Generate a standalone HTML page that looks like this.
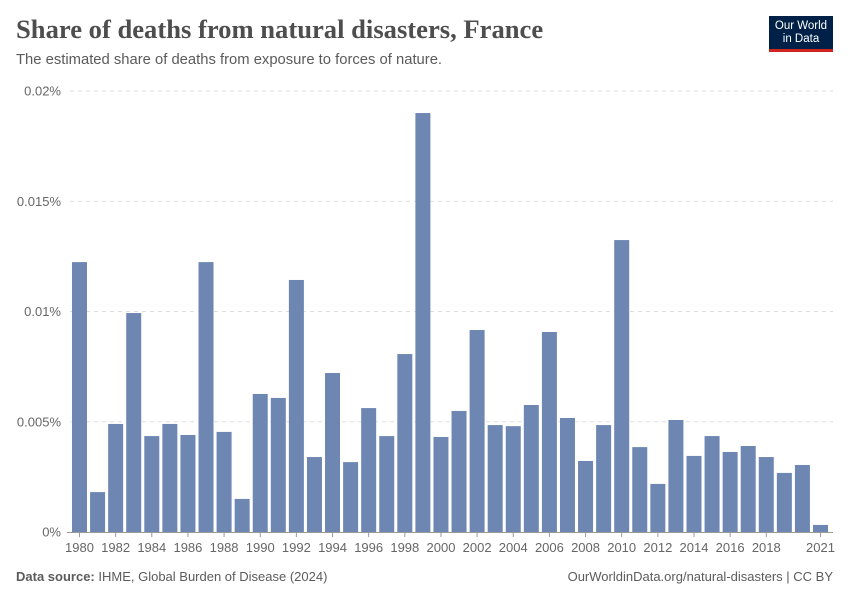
<!DOCTYPE html>
<html><head><meta charset="utf-8"><style>
body{margin:0;background:#fff;font-family:"Liberation Sans",sans-serif;}
#wrap{position:relative;width:850px;height:600px;overflow:hidden;}
.t{position:absolute;white-space:nowrap;}
</style></head><body>
<div id="wrap">
<div class="t" style="left:16px;top:14px;font-family:'Liberation Serif',serif;font-size:26.6px;font-weight:bold;color:#4e4e4e;">Share of deaths from natural disasters, France</div>
<div class="t" style="left:16px;top:52px;font-size:14.8px;color:#5b5b5b;">The estimated share of deaths from exposure to forces of nature.</div>
<div style="position:absolute;left:769px;top:16px;width:64px;height:36px;background:#002147;border-bottom:3px solid #ce261e;box-sizing:border-box;color:#fff;font-size:11.5px;line-height:13px;text-align:center;padding-top:4px;">Our World<br>in Data</div>
<svg id="chart" width="850" height="600" style="position:absolute;left:0;top:0"></svg>
<div class="t" style="left:16px;top:569px;font-size:13px;color:#5b5b5b;"><b style="font-weight:bold;color:#5b5b5b">Data source:</b> IHME, Global Burden of Disease (2024)</div>
<div class="t" style="right:17px;top:569px;font-size:13px;color:#5b5b5b;">OurWorldinData.org/natural-disasters | CC BY</div>
</div>
<script>
const years=[1980,1981,1982,1983,1984,1985,1986,1987,1988,1989,1990,1991,1992,1993,1994,1995,1996,1997,1998,1999,2000,2001,2002,2003,2004,2005,2006,2007,2008,2009,2010,2011,2012,2013,2014,2015,2016,2017,2018,2019,2020,2021];
const values=[0.01224,0.00181,0.0049,0.00993,0.00435,0.0049,0.0044,0.01224,0.00454,0.0015,0.00626,0.00608,0.01143,0.0034,0.00721,0.00317,0.00562,0.00435,0.00807,0.019,0.00431,0.00549,0.00916,0.00485,0.0048,0.00576,0.00907,0.00517,0.00322,0.00485,0.01324,0.00385,0.00218,0.00508,0.00345,0.00435,0.00363,0.0039,0.0034,0.00268,0.00304,0.00032];
const yTicks=[0,0.005,0.01,0.015,0.02];
const yTickLabels=["0%","0.005%","0.01%","0.015%","0.02%"];
const xTickYears=[1980,1982,1984,1986,1988,1990,1992,1994,1996,1998,2000,2002,2004,2006,2008,2010,2012,2014,2016,2018,2021];
const svg=document.getElementById('chart');
const NS='http://www.w3.org/2000/svg';
const y0=532,y1=91,yMax=0.02;
const y=v=>y0-(v/yMax)*(y0-y1);
const x0=79.5,x1=820.5;
const x=yr=>x0+(yr-years[0])*(x1-x0)/(years[years.length-1]-years[0]);
const bw=15;
function mk(tag,attrs){const e=document.createElementNS(NS,tag);for(const k in attrs)e.setAttribute(k,attrs[k]);svg.appendChild(e);return e;}
yTicks.forEach((v,i)=>{
  if(v>0){const l=mk('line',{x1:70,x2:833,y1:y(v),y2:y(v),stroke:'#ddd','stroke-dasharray':'4,4'});
  
  }
  const t=mk('text',{x:61,y:y(v)+4.5,'text-anchor':'end','font-size':13,fill:'#666','font-family':'Liberation Sans, sans-serif'});
  t.textContent=yTickLabels[i];
  
  
});
years.forEach((yr,i)=>{
  const r=mk('rect',{x:x(yr)-bw/2,y:y(values[i]),width:bw,height:y0-y(values[i]),fill:'#6d87b2'});
  
  
});
const ax=mk('line',{x1:67,x2:833,y1:y0+0.5,y2:y0+0.5,stroke:'#999'});


xTickYears.forEach(yr=>{
  const tk=mk('line',{x1:x(yr),x2:x(yr),y1:y0,y2:y0+5,stroke:'#999'});
  
  
  const t=mk('text',{x:x(yr),y:552,'text-anchor':'middle','font-size':13,fill:'#666','font-family':'Liberation Sans, sans-serif'});
  t.textContent=yr;
  
  
});
</script>
</body></html>
